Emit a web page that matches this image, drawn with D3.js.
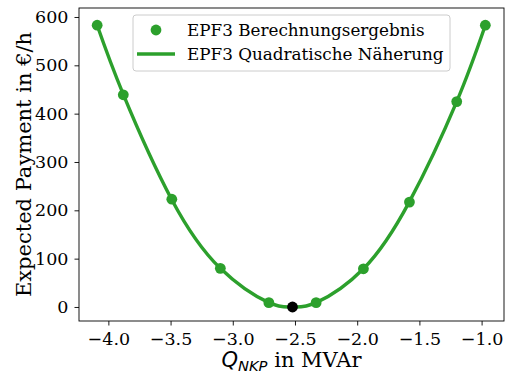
<!DOCTYPE html>
<html>
<head>
<meta charset="utf-8">
<script src="https://cdn.jsdelivr.net/npm/d3@7"></script>
<style>
  body { margin: 0; background: #fff; }
  svg text { font-family: "DejaVu Serif", serif; fill: #000; }
</style>
</head>
<body>
<div id="container"></div>
<script>
// Chart data
const qValues = [-4.09, -3.88, -3.49, -3.10, -2.71, -2.33, -1.95, -1.58, -1.20, -0.97];
const payValues = [583, 439, 223, 80, 9, 9, 79, 217, 425, 583];
const optimumQ = [-2.52];
const optimumP = [0];
// points along the quadratic approximation line
const fitQ = [-4.09, -3.88, -3.49, -3.10, -2.71, -2.52, -2.33, -1.95, -1.58, -1.20, -0.97];
const fitP = [583, 440, 222, 80, 9, 0, 9, 79, 218, 425, 583];
const xTicks = [-4.0, -3.5, -3.0, -2.5, -2.0, -1.5, -1.0];
const yTicks = [0, 100, 200, 300, 400, 500, 600];
const legendLabels = ["EPF3 Berechnungsergebnis", "EPF3 Quadratische Näherung"];

const width = 510;
const height = 374;
const margin = {left: 79, right: 6, top: 8, bottom: 53};
const green = "#2ca02c";

const svg = d3.select("#container")
    .append("svg")
    .attr("width", width)
    .attr("height", height);

const xScale = d3.scaleLinear()
    .domain([-4.236, -0.82])
    .range([margin.left, width - margin.right]);

const yScale = d3.scaleLinear()
    .domain([-29, 618.6])
    .range([height - margin.bottom, margin.top]);

//Axes
const xAxis = d3.axisBottom(xScale)
    .tickValues(xTicks)
    .tickFormat(d3.format(".1f"))
    .tickSizeOuter(0)
    .tickSize(4.5)
    .tickPadding(7);
const gx = svg.append("g")
    .attr("transform", `translate(0, ${height - margin.bottom})`)
    .call(xAxis);

const yAxis = d3.axisLeft(yScale)
    .tickValues(yTicks)
    .tickSizeOuter(0)
    .tickSize(4.5)
    .tickPadding(6);
const gy = svg.append("g")
    .attr("transform", `translate(${margin.left}, 0)`)
    .call(yAxis);

[gx, gy].forEach(g => {
    g.selectAll("text").style("font-family", "DejaVu Serif").style("font-size", "17.5px");
    g.selectAll("line").attr("stroke", "#000").attr("stroke-width", 0.9);
    g.select(".domain").remove();
});

//Frame
svg.append("rect")
    .attr("x", margin.left)
    .attr("y", margin.top)
    .attr("width", width - margin.left - margin.right)
    .attr("height", height - margin.top - margin.bottom)
    .attr("fill", "none")
    .attr("stroke", "#000")
    .attr("stroke-width", 0.9);

//Quadratic approximation line
const line = d3.line()
    .x((d, i) => xScale(fitQ[i]))
    .y((d, i) => yScale(fitP[i]))
    .curve(d3.curveNatural);

svg.append("path")
    .datum(fitQ)
    .attr("d", line)
    .attr("fill", "none")
    .attr("stroke", green)
    .attr("stroke-width", 3.4);

//Calculated points
svg.selectAll("circle.pt")
    .data(qValues)
    .enter()
    .append("circle")
    .attr("class", "pt")
    .attr("cx", d => xScale(d))
    .attr("cy", (d, i) => yScale(payValues[i]))
    .attr("r", 5.4)
    .attr("fill", green);

svg.selectAll("circle.opt")
    .data(optimumQ)
    .enter()
    .append("circle")
    .attr("class", "opt")
    .attr("cx", d => xScale(d))
    .attr("cy", (d, i) => yScale(optimumP[i]))
    .attr("r", 5.4)
    .attr("fill", "#000");

//Axis labels
svg.append("text")
    .attr("transform", `translate(30.5, ${(margin.top + height - margin.bottom) / 2}) rotate(-90)`)
    .attr("text-anchor", "middle")
    .style("font-size", "21px")
    .text("Expected Payment in €/h");

const xl = svg.append("text")
    .attr("x", (margin.left + width - margin.right) / 2)
    .attr("y", 367)
    .attr("text-anchor", "middle")
    .style("font-size", "21px");
xl.append("tspan")
    .style("font-family", "DejaVu Sans")
    .style("font-style", "italic")
    .text("Q");
xl.append("tspan")
    .style("font-family", "DejaVu Sans")
    .style("font-style", "italic")
    .style("font-size", "14.7px")
    .attr("dy", 4)
    .text("NKP");
xl.append("tspan")
    .attr("dy", -4)
    .text(" in MVAr");

//Legend
const legend = svg.append("g");
legend.append("rect")
    .attr("x", 133)
    .attr("y", 15)
    .attr("width", 317)
    .attr("height", 56)
    .attr("rx", 3)
    .attr("fill", "#fff")
    .attr("fill-opacity", 0.8)
    .attr("stroke", "#ccc")
    .attr("stroke-width", 1);

legend.append("circle")
    .attr("cx", 156)
    .attr("cy", 30)
    .attr("r", 5.4)
    .attr("fill", green);

legend.append("line")
    .attr("x1", 137)
    .attr("x2", 175)
    .attr("y1", 54)
    .attr("y2", 54)
    .attr("stroke", green)
    .attr("stroke-width", 3.4);

legend.selectAll("text")
    .data(legendLabels)
    .enter()
    .append("text")
    .attr("x", 187)
    .attr("y", (d, i) => 30 + i * 24)
    .attr("dy", "0.35em")
    .style("font-size", "16.8px")
    .text(d => d);
</script>
</body>
</html>
